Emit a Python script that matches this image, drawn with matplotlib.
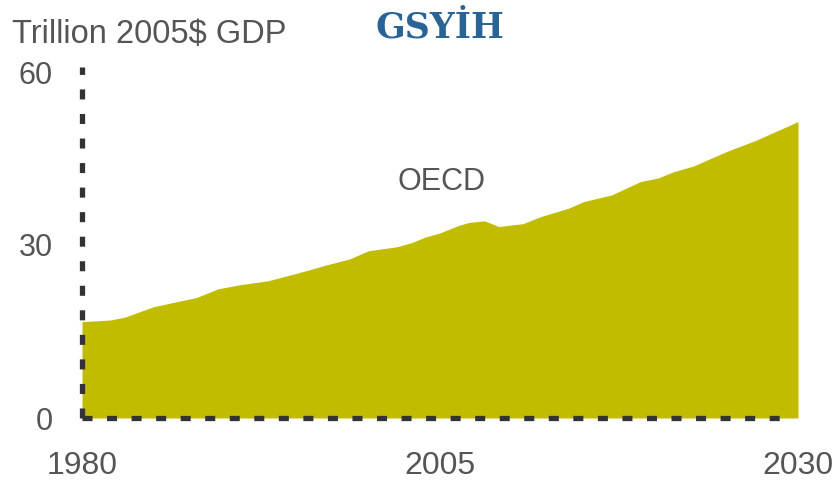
import numpy as np
import matplotlib
matplotlib.use("Agg")
import matplotlib.pyplot as plt

# OECD GDP, trillion 2005$
years = [1980, 1982, 1983, 1985, 1988, 1989.5, 1991, 1993, 1995, 1997,
         1998.7, 2000, 2002, 2003, 2004, 2005, 2006.3, 2007, 2008.1, 2009.1,
         2010.8, 2012, 2014, 2015, 2017, 2019, 2020.2, 2021.3, 2022.7,
         2025, 2027, 2030]
gdp = [16.7, 17.0, 17.5, 19.3, 20.9, 22.4, 23.1, 23.8, 25.1, 26.5,
       27.6, 29.0, 29.7, 30.4, 31.4, 32.1, 33.4, 33.9, 34.2, 33.2,
       33.7, 34.9, 36.4, 37.5, 38.7, 41.0, 41.6, 42.7, 43.7,
       46.2, 48.1, 51.4]

xticks = [1980, 2005, 2030]
yticks = [0, 30, 60]

fill_color = "#C2BC00"
text_color = "#555555"
axis_color = "#333333"

plt.rcParams['font.family'] = ['Liberation Sans', 'DejaVu Sans']

fig = plt.figure(figsize=(8.37, 4.82), dpi=100)
ax = fig.add_axes([82/837, 1 - 418/482, 716/837, 346/482])

ax.fill_between(years, gdp, 0, color=fill_color, lw=0, zorder=1)

ax.set_xlim(1980, 2030)
ax.set_ylim(0, 60)

for side in ["top", "right"]:
    ax.spines[side].set_visible(False)
for side in ["left", "bottom"]:
    sp = ax.spines[side]
    sp.set_linestyle((0, (1.9, 2.75)))
    sp.set_linewidth(3.8)
    sp.set_color(axis_color)
    sp.set_capstyle("butt")
    sp.set_zorder(3)
ax.spines["bottom"].set_bounds(1980, 2029.4)
ax.spines["left"].set_bounds(0, 60.8)

ax.set_xticks(xticks)
ax.set_yticks(yticks)
ax.tick_params(axis="x", length=0, pad=24, labelsize=23, labelcolor=text_color)
ax.tick_params(axis="y", length=0, pad=21, labelsize=22, labelcolor=text_color)

ax.text(2002.0, 39.6, "OECD", fontsize=22, color=text_color,
        ha="left", va="baseline")

fig.text(12/837, 1 - 42.5/482, "Trillion 2005$ GDP", fontsize=23.5,
         color=text_color, ha="left", va="baseline")
fig.text(440/837, 1 - 37/482, "GSYİH", fontsize=25, fontweight="bold",
         family="DejaVu Serif", color="#2A6496", ha="center", va="baseline")

fig.savefig("out.png", dpi=100)
